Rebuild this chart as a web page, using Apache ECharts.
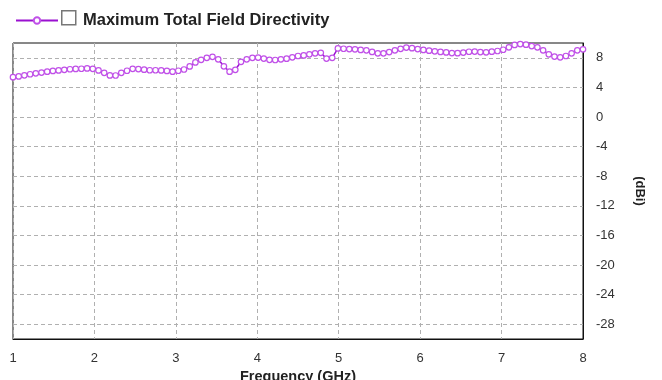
<!DOCTYPE html>
<html><head><meta charset="utf-8">
<script src="https://cdn.jsdelivr.net/npm/echarts@6/dist/echarts.min.js"></script>
<style>html,body{margin:0;padding:0;background:#fff}#c{width:662px;height:380px}</style>
</head><body><div id="c"></div>
<script>
const seriesName = 'Maximum Total Field Directivity';
const freqGHz = [1.00,1.07,1.14,1.21,1.28,1.35,1.42,1.49,1.56,1.63,1.70,1.77,1.84,1.91,1.98,2.05,2.12,2.19,2.26,2.33,2.40,2.47,2.54,2.61,2.68,2.75,2.82,2.89,2.96,3.03,3.10,3.17,3.24,3.31,3.38,3.45,3.52,3.59,3.66,3.73,3.80,3.87,3.94,4.01,4.08,4.15,4.22,4.29,4.36,4.43,4.50,4.57,4.64,4.71,4.78,4.85,4.92,4.99,5.06,5.13,5.20,5.27,5.34,5.41,5.48,5.55,5.62,5.69,5.76,5.83,5.90,5.97,6.04,6.11,6.18,6.25,6.32,6.39,6.46,6.53,6.60,6.67,6.74,6.81,6.88,6.95,7.02,7.09,7.16,7.23,7.30,7.37,7.44,7.51,7.58,7.65,7.72,7.79,7.86,7.93,8.00];
const directivity = [5.38,5.48,5.63,5.78,5.90,6.01,6.13,6.22,6.30,6.37,6.45,6.49,6.52,6.57,6.51,6.29,5.97,5.62,5.61,5.97,6.25,6.51,6.48,6.40,6.32,6.32,6.30,6.22,6.12,6.25,6.42,6.83,7.37,7.72,8.00,8.13,7.80,6.85,6.12,6.38,7.46,7.80,8.00,8.03,7.90,7.73,7.70,7.80,7.88,8.06,8.24,8.32,8.47,8.60,8.67,7.89,8.00,9.27,9.22,9.18,9.15,9.07,9.01,8.80,8.60,8.60,8.78,9.01,9.21,9.38,9.30,9.18,9.07,8.96,8.87,8.79,8.72,8.64,8.63,8.71,8.82,8.84,8.78,8.74,8.83,8.92,9.09,9.41,9.74,9.85,9.77,9.58,9.41,9.01,8.47,8.17,8.06,8.24,8.60,9.01,9.14];
const yTicks = [8,4,0,-4,-8,-12,-16,-20,-24,-28];
const xTicks = [1,2,3,4,5,6,7,8];

const chart = echarts.init(document.getElementById('c'), null, {renderer:'canvas'});
const font = 'Liberation Sans, Arial, sans-serif';
chart.setOption({
  animation:false,
  backgroundColor:'#fff',
  legend:{
    left:15, top:12, padding:0, itemWidth:42, itemHeight:8,
    textStyle:{fontFamily:font, fontSize:16.5, fontWeight:'bold', color:'#222', padding:[0,0,0,20]},
    data:[seriesName]
  },
  graphic:[{type:'rect', left:61, top:10, shape:{width:14, height:14}, style:{fill:'#fff', stroke:'#777', lineWidth:1.5}}],
  grid:{left:13, right:79, top:43, bottom:41, show:true, borderColor:'#111', borderWidth:1, outerBoundsMode:'none', containLabel:false},
  xAxis:{
    type:'value', min:1, max:8, interval:1,
    name:'Frequency (GHz)', nameLocation:'middle', nameGap:27,
    nameTextStyle:{fontFamily:font, fontSize:14.5, fontWeight:'bold', color:'#222'},
    axisLine:{show:true, onZero:false, lineStyle:{color:'#111'}},
    axisTick:{show:false},
    axisLabel:{fontFamily:font, fontSize:13, color:'#333', margin:13, customValues:xTicks},
    splitLine:{show:true, lineStyle:{color:'#b0b0b0', type:[4,3]}}
  },
  yAxis:{
    type:'value', position:'right', min:-30, max:10,
    name:'(dBi)', nameLocation:'middle', nameGap:50, nameRotate:-90,
    nameTextStyle:{fontFamily:font, fontSize:13, fontWeight:'bold', color:'#222'},
    axisLine:{show:true, lineStyle:{color:'#111'}},
    axisTick:{show:false, customValues:yTicks},
    axisLabel:{fontFamily:font, fontSize:13, color:'#333', margin:13, customValues:yTicks},
    splitLine:{show:true, lineStyle:{color:'#b0b0b0', type:[4,3]}}
  },
  series:[{
    name:seriesName, type:'line',
    data: freqGHz.map((f,i)=>[f, directivity[i]]),
    symbol:'circle', symbolSize:5.5, showAllSymbol:true,
    lineStyle:{color:'#9a10d0', width:1.5},
    itemStyle:{color:'#ffffff', borderColor:'#c050e8', borderWidth:1.2},
    clip:false
  }]
});
</script></body></html>
